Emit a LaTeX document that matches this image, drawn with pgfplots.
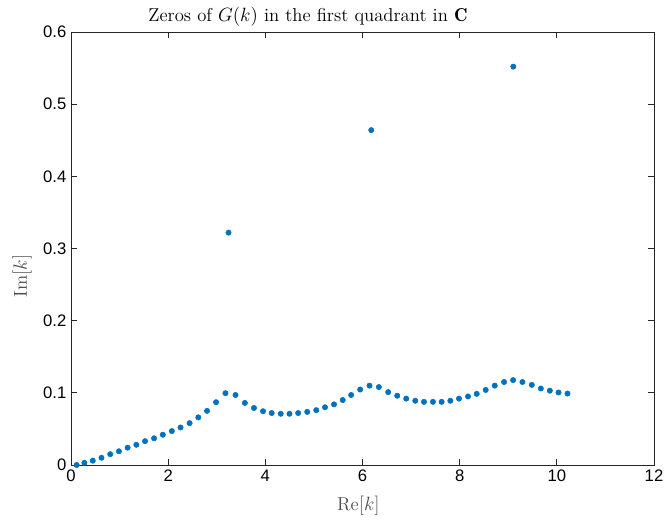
\documentclass[border=0pt]{standalone}
\usepackage{fontspec}
\usepackage{pgfplots}
\pgfplotsset{compat=1.18}
\newfontfamily\helv{Liberation Sans}
\definecolor{mblue}{RGB}{0,114,189}
\definecolor{axgray}{RGB}{38,38,38}
\begin{document}
\begin{tikzpicture}
\path[use as bounding box] (-53.25pt,-41.25pt) rectangle (446.25pt,348.75pt);
\begin{axis}[
  at={(0,0)}, anchor=south west,
  scale only axis, width=437.25pt, height=324.75pt,
  xmin=0, xmax=12, ymin=0, ymax=0.6,
  xtick={0,2,...,12}, ytick={0,0.1,...,0.6},
  yticklabels={0,0.1,0.2,0.3,0.4,0.5,0.6},
  tick align=inside, major tick length=4.5pt,
  axis line style={axgray, line width=0.6pt},
  tick style={axgray, line width=0.6pt},
  /pgf/number format/assume math mode=true,
  tick label style={font=\helv\fontsize{12.5}{14}\selectfont, text=black},
  clip=false,
]
\addplot[only marks, mark=*, mark size=2pt, mblue, mark options={draw=none, fill=mblue}] coordinates {
(0.117,0.000) (0.276,0.003) (0.448,0.006) (0.628,0.010) (0.807,0.015)
(0.986,0.019) (1.166,0.024) (1.345,0.028) (1.524,0.033) (1.710,0.037)
(1.890,0.042) (2.076,0.047) (2.255,0.052) (2.441,0.058) (2.621,0.066)
(2.800,0.075) (2.986,0.087) (3.179,0.0995) (3.386,0.097) (3.579,0.086)
(3.766,0.079) (3.952,0.0745) (4.131,0.072) (4.317,0.071) (4.497,0.071)
(4.676,0.072) (4.862,0.0736) (5.048,0.076) (5.228,0.080) (5.414,0.084)
(5.593,0.090) (5.766,0.097) (5.952,0.1046) (6.144,0.110) (6.337,0.108)
(6.529,0.101) (6.715,0.096) (6.900,0.092) (7.086,0.089) (7.265,0.0875)
(7.450,0.0875) (7.629,0.0875) (7.808,0.089) (7.986,0.092) (8.172,0.095)
(8.351,0.0986) (8.536,0.104) (8.722,0.110) (8.914,0.115) (9.100,0.1176)
(9.292,0.115) (9.485,0.111) (9.670,0.106) (9.856,0.103) (10.034,0.1005)
(10.220,0.099)
(3.242,0.322) (6.18,0.464) (9.104,0.552)
};
\node[font=\fontsize{14}{16}\selectfont, anchor=base] at (axis description cs:0.4065,1.025) {Zeros of $G(k)$ in the first quadrant in $\mathbf{C}$};
\node[font=\fontsize{14}{16}\selectfont, text=black!70] at (axis description cs:0.493,-0.093) {Re$[k]$};
\node[font=\fontsize{14}{16}\selectfont, text=black!70, rotate=90] at (axis description cs:-0.084,0.4365) {Im$[k]$};
\end{axis}
\end{tikzpicture}
\end{document}
